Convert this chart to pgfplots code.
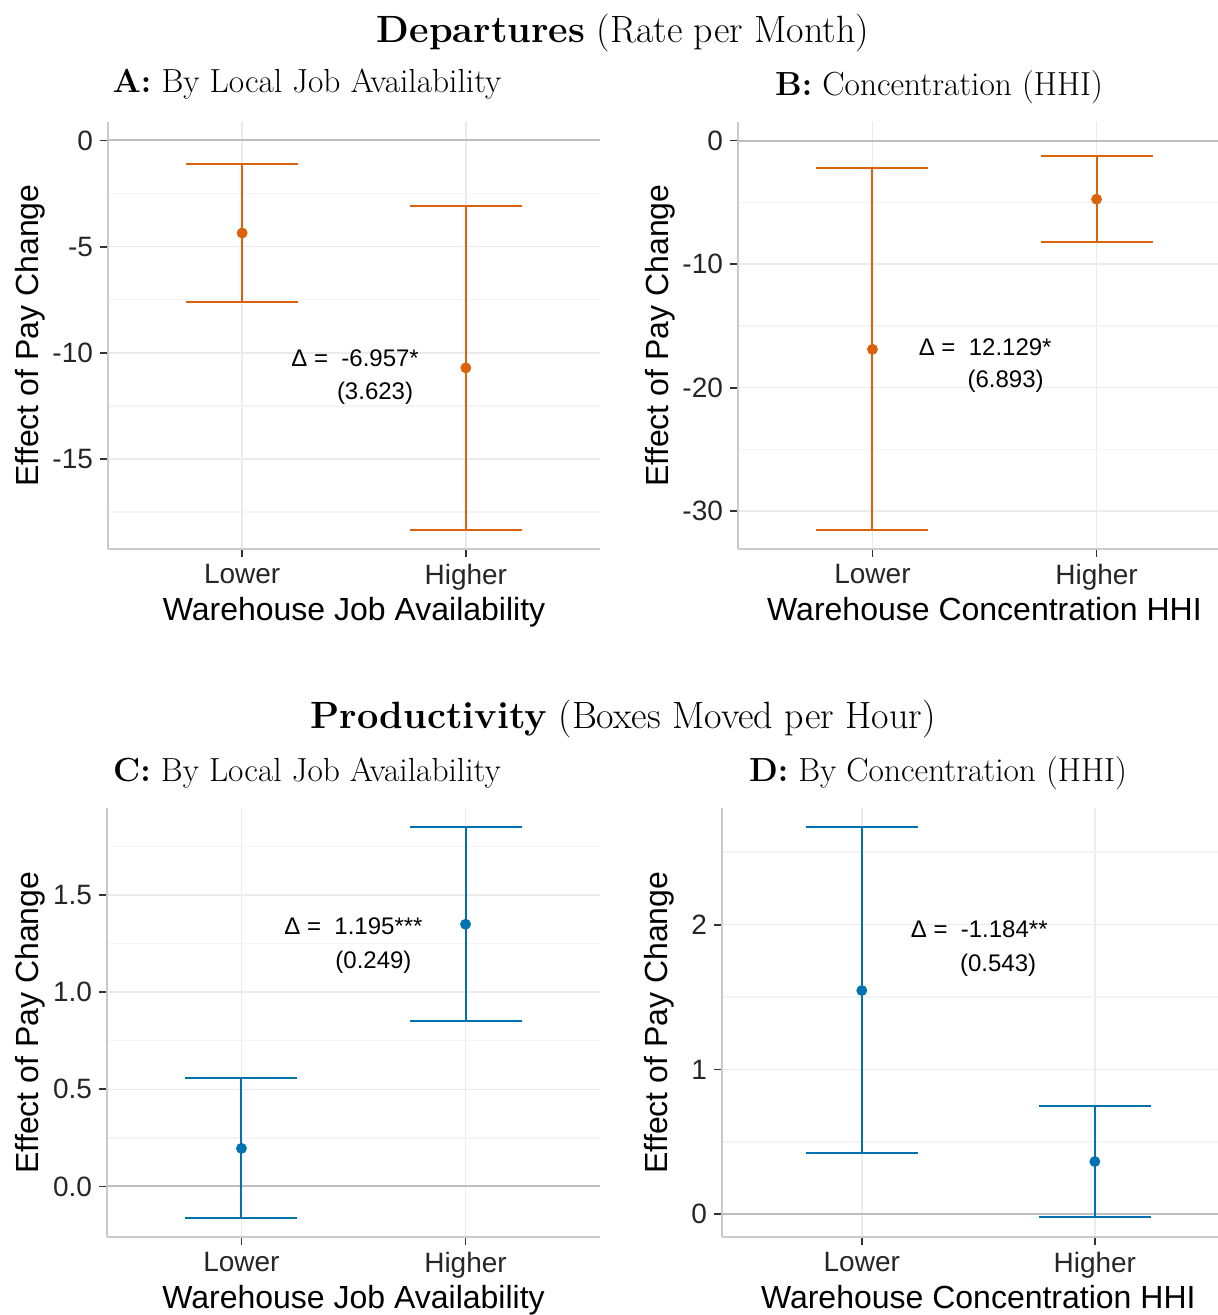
\documentclass[border=0pt]{standalone}
\usepackage{fontspec}
\usepackage{pgfplots}
\pgfplotsset{compat=1.18}
\newfontfamily\axfont{Liberation Sans}

\definecolor{vermil}{HTML}{D9620A}
\definecolor{okblue}{HTML}{0072B2}
\definecolor{spine}{HTML}{CACACA}
\definecolor{gridmaj}{HTML}{EBEBEB}
\definecolor{gridmin}{HTML}{F4F4F4}
\definecolor{zeroline}{HTML}{BEBEBE}
\definecolor{tickcol}{HTML}{333333}

% per-panel estimates: x position, point estimate, upper and lower CI distance
\pgfplotstableread{
x est ep em
1 -4.36 3.27 3.23
2 -10.71 7.63 7.62
}\deptjobs
\pgfplotstableread{
x est ep em
1 -16.90 14.65 14.60
2 -4.75 3.48 3.49
}\depthhi
\pgfplotstableread{
x est ep em
1 0.196 0.360 0.359
2 1.349 0.500 0.498
}\prodjobs
\pgfplotstableread{
x est ep em
1 1.545 1.129 1.125
2 0.364 0.382 0.383
}\prodhhi

\tikzset{
  delta/.style={font=\axfont\fontsize{12}{14}\selectfont, anchor=center},
  maintitle/.style={font=\fontsize{19}{22}\selectfont},
  paneltitle/.style={font=\fontsize{16.7}{19}\selectfont},
}

\pgfplotsset{
  panel/.style={
    scale only axis,
    axis x line*=bottom, axis y line*=left,
    axis line style={draw=spine, line width=1.4pt},
    xmin=0.4, xmax=2.6,
    xtick={1,2}, xticklabels={Lower,Higher},
    tick align=outside, major tick length=4pt,
    major tick style={draw=tickcol, line width=0.9pt},
    minor tick length=0pt,
    ymajorgrids, xmajorgrids, yminorgrids,
    major grid style={draw=gridmaj, line width=0.7pt},
    minor grid style={draw=gridmin, line width=0.7pt},
    tick label style={font=\axfont\fontsize{14}{16}\selectfont, text=black!85},
    label style={font=\axfont\fontsize{16}{18}\selectfont},
    xlabel style={yshift=3.5pt},
    ylabel style={yshift=-3pt},
    ylabel={Effect of Pay Change},
  },
  ci/.style={only marks, mark=*, mark size=2.5pt, color=#1,
    error bars/.cd, y dir=both, y explicit,
    error mark=|,
    error bar style={line width=1pt, #1},
    error mark options={line width=1pt, mark size=28pt, #1}},
  zero/.style={zeroline, line width=1pt, forget plot},
}

\begin{document}
\begin{tikzpicture}
\useasboundingbox (0pt,0pt) rectangle (609pt,-657.5pt);

% ---- Departures ----
\node[maintitle] at (311.5pt,-16.5pt) {\textbf{Departures} (Rate per Month)};
\node[paneltitle] at (153.5pt,-42pt) {\textbf{A:} By Local Job Availability};
\node[paneltitle] at (469.5pt,-43.5pt) {\textbf{B:} Concentration (HHI)};

\begin{axis}[panel, at={(54pt,-274.5pt)}, anchor=south west,
  width=246pt, height=213.5pt,
  ymin=-19.24, ymax=0.87,
  ytick={-15,-10,-5,0}, yticklabels={-15,-10,-5,0},
  minor ytick={-17.5,-12.5,-7.5,-2.5},
  xlabel={Warehouse Job Availability}]
  \addplot[zero] coordinates {(0.4,0) (2.6,0)};
  \addplot[ci=vermil] table[x=x, y=est, y error plus=ep, y error minus=em] {\deptjobs};
  \node[delta] at (axis cs:1.505,-10.24) {Δ =\ \ -6.957*};
  \node[delta] at (axis cs:1.594,-11.89) {(3.623)};
\end{axis}

\begin{axis}[panel, at={(369pt,-274.5pt)}, anchor=south west,
  width=246.5pt, height=213.5pt,
  ymin=-33.06, ymax=1.5,
  ytick={-30,-20,-10,0}, yticklabels={-30,-20,-10,0},
  minor ytick={-25,-15,-5},
  xlabel={Warehouse Concentration HHI}]
  \addplot[zero] coordinates {(0.4,0) (2.6,0)};
  \addplot[ci=vermil] table[x=x, y=est, y error plus=ep, y error minus=em] {\depthhi};
  \node[delta] at (axis cs:1.503,-16.69) {Δ =\ \ 12.129*};
  \node[delta] at (axis cs:1.594,-19.52) {(6.893)};
\end{axis}

% ---- Productivity ----
\node[maintitle] at (311.5pt,-359.5pt) {\textbf{Productivity} (Boxes Moved per Hour)};
\node[paneltitle] at (153.5pt,-386.5pt) {\textbf{C:} By Local Job Availability};
\node[paneltitle] at (469pt,-386.5pt) {\textbf{D:} By Concentration (HHI)};

\begin{axis}[panel, at={(53.5pt,-618.5pt)}, anchor=south west,
  width=246.5pt, height=214.5pt,
  ymin=-0.26, ymax=1.947,
  ytick={0,0.5,1,1.5}, yticklabels={0.0,0.5,1.0,1.5},
  minor ytick={0.25,0.75,1.25,1.75},
  xlabel={Warehouse Job Availability}]
  \addplot[zero] coordinates {(0.4,0) (2.6,0)};
  \addplot[ci=okblue] table[x=x, y=est, y error plus=ep, y error minus=em] {\prodjobs};
  \node[delta] at (axis cs:1.50,1.340) {Δ =\ \ 1.195***};
  \node[delta] at (axis cs:1.589,1.155) {(0.249)};
\end{axis}

\begin{axis}[panel, at={(361pt,-618.5pt)}, anchor=south west,
  width=256.3pt, height=214.5pt,
  ymin=-0.157, ymax=2.805,
  ytick={0,1,2}, yticklabels={0,1,2},
  minor ytick={0.5,1.5,2.5},
  xlabel={Warehouse Concentration HHI},
  ylabel style={yshift=4.5pt},
  error bars/error mark options={mark size=29pt}]
  \addplot[zero] coordinates {(0.4,0) (2.6,0)};
  \addplot[ci=okblue] table[x=x, y=est, y error plus=ep, y error minus=em] {\prodhhi};
  \node[delta] at (axis cs:1.504,1.966) {Δ =\ \ -1.184**};
  \node[delta] at (axis cs:1.585,1.718) {(0.543)};
\end{axis}
\end{tikzpicture}
\end{document}
